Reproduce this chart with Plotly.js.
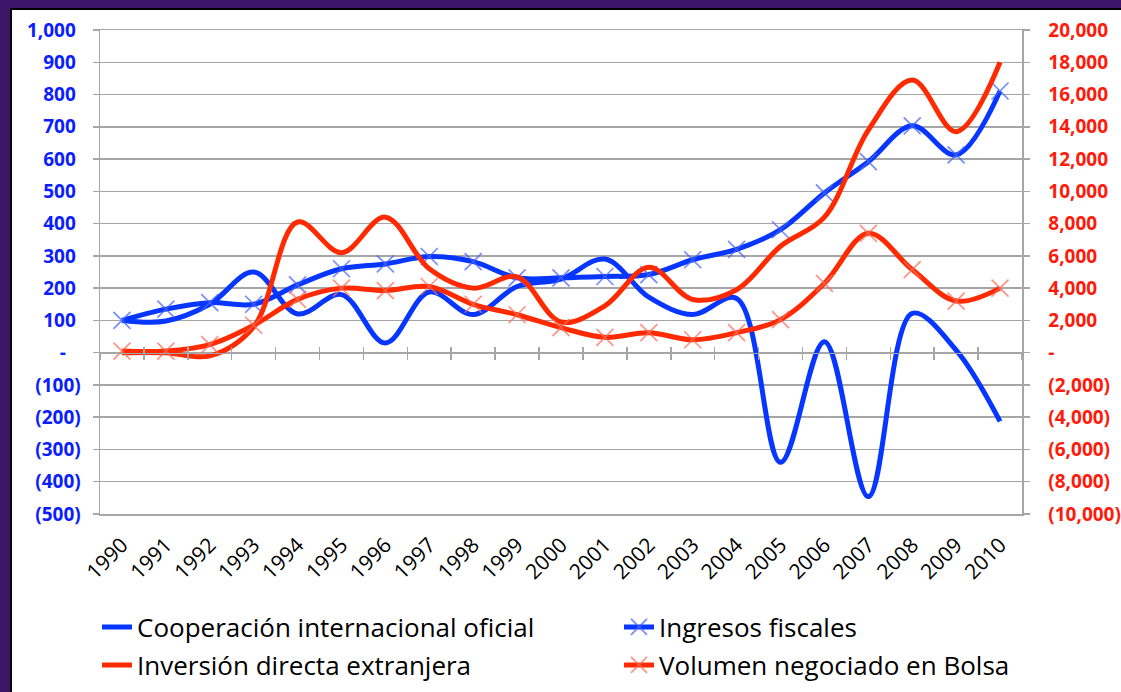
<!DOCTYPE html>
<html>
<head>
<meta charset="utf-8">
<script src="https://cdn.plot.ly/plotly-3.0.1.min.js"></script>
<style>
  html, body { margin: 0; padding: 0; background: #3c1569; }
  #chart { width: 1121px; height: 692px; }
</style>
</head>
<body>
<div id="chart"></div>
<script>
// years on the category axis
const years = [1990, 1991, 1992, 1993, 1994, 1995, 1996, 1997, 1998, 1999, 2000,
               2001, 2002, 2003, 2004, 2005, 2006, 2007, 2008, 2009, 2010];

// left axis (blue)
const cooperacion = [100, 98, 150, 250, 120, 180, 30, 188, 118, 205, 228,
                     290, 172, 118, 168, -340, 34, -446, 122, 8, -213];
const ingresos = [100, 135, 155, 150, 210, 260, 275, 298, 282, 232, 232,
                  236, 242, 288, 320, 381, 495, 592, 703, 613, 811];

// right axis (red)
const inversion = [0, 0, -200, 1600, 8100, 6200, 8400, 5200, 4000, 4700, 1900,
                   2900, 5300, 3300, 3900, 6600, 8400, 13800, 16900, 13700, 18000];
const volumen = [100, 100, 500, 1700, 3300, 4000, 3850, 4100, 3000, 2350, 1550,
                 950, 1240, 800, 1240, 2050, 4300, 7400, 5150, 3200, 4000];

const leftTicks = [-500, -400, -300, -200, -100, 0, 100, 200, 300, 400, 500, 600, 700, 800, 900, 1000];
const rightTicks = leftTicks.map(v => v * 20);

// accounting style labels like excel: (100), -, 1,000
function acct(v, pad) {
    if (v === 0) return '-' + '\u00a0\u00a0\u00a0';
    const s = Math.abs(v).toLocaleString('en-US');
    return v < 0 ? '(' + s + ')' : s + (pad ? '\u00a0' : '');
}

const BLUE = '#0636ff';
const RED = '#ff2a00';
const GRID = '#a6a6a6';

// figure geometry (px)
const W = 1121, H = 692;
const M = {l: 100, r: 99, t: 30, b: 178, autoexpand: false};
const pw = W - M.l - M.r, ph = H - M.t - M.b;
const px2x = p => (p - M.l) / pw;
const px2y = p => (H - M.b - p) / ph;

const traces = [
    {
        x: years, y: cooperacion, name: 'Cooperación internacional oficial',
        type: 'scatter', mode: 'lines', yaxis: 'y',
        line: {color: BLUE, width: 5, shape: 'spline', smoothing: 1},
        legend: 'legend'
    },
    {
        x: years, y: ingresos, name: 'Ingresos fiscales',
        type: 'scatter', mode: 'lines+markers', yaxis: 'y',
        line: {color: BLUE, width: 5, shape: 'spline', smoothing: 1},
        marker: {symbol: 'x-thin-open', size: 17, color: 'rgba(70,100,255,0.75)',
                 line: {width: 1.7, color: 'rgba(70,100,255,0.75)'}},
        legend: 'legend2'
    },
    {
        x: years, y: inversion, name: 'Inversión directa extranjera',
        type: 'scatter', mode: 'lines', yaxis: 'y2',
        line: {color: RED, width: 5, shape: 'spline', smoothing: 1},
        legend: 'legend3'
    },
    {
        x: years, y: volumen, name: 'Volumen negociado en Bolsa',
        type: 'scatter', mode: 'lines+markers', yaxis: 'y2',
        line: {color: RED, width: 5, shape: 'spline', smoothing: 1},
        marker: {symbol: 'x-thin-open', size: 17, color: 'rgba(255,110,90,0.75)',
                 line: {width: 1.7, color: 'rgba(255,110,90,0.75)'}},
        legend: 'legend4'
    },
    // helpers so the cross ticks on the zero line get drawn
    {x: years, y: years.map(() => null), xaxis: 'x2', yaxis: 'y', showlegend: false, hoverinfo: 'skip'},
    {x: years, y: years.map(() => null), xaxis: 'x3', yaxis: 'y', showlegend: false, hoverinfo: 'skip'}
];

const xr = [years[0] - 0.5, years[years.length - 1] + 0.5];
const bounds = years.map(y => y - 0.5).concat([years[years.length - 1] + 0.5]);
const zeroPos = (0 - leftTicks[0]) / (leftTicks[leftTicks.length - 1] - leftTicks[0]);

const legendFont = {family: 'Open Sans, sans-serif', size: 26, color: '#000'};
function legendAt(px, py) {
    return {
        x: px2x(px), y: px2y(py), xanchor: 'left', yanchor: 'middle',
        bgcolor: 'rgba(0,0,0,0)', font: legendFont, itemwidth: 30
    };
}

const layout = {
    width: W, height: H,
    margin: M,
    paper_bgcolor: '#3c1569',
    plot_bgcolor: '#ffffff',
    font: {family: 'Open Sans, sans-serif'},
    xaxis: {
        range: xr, tickvals: years, ticktext: years.map(String),
        tickangle: -45, ticks: '', ticklabelstandoff: 9,
        tickfont: {family: 'Open Sans, sans-serif', size: 21, color: '#000'},
        showgrid: false, zeroline: false,
        showline: true, mirror: true, linecolor: GRID, linewidth: 1.5
    },
    xaxis2: {
        overlaying: 'x', anchor: 'free', position: zeroPos, matches: 'x',
        tickvals: bounds, showticklabels: false, ticks: 'outside', ticklen: 6,
        tickcolor: GRID, tickwidth: 1.5, showline: true, linecolor: GRID, linewidth: 1.5,
        showgrid: false, zeroline: false
    },
    xaxis3: {
        overlaying: 'x', anchor: 'free', position: zeroPos, matches: 'x',
        tickvals: bounds, showticklabels: false, ticks: 'inside', ticklen: 6,
        tickcolor: GRID, tickwidth: 1.5, showline: false,
        showgrid: false, zeroline: false
    },
    yaxis: {
        range: [leftTicks[0], leftTicks[leftTicks.length - 1]],
        tickvals: leftTicks, ticktext: leftTicks.map(v => acct(v, true)),
        tickfont: {family: 'Open Sans, sans-serif', size: 19, color: '#0a1eff', weight: 'bold'},
        ticks: 'outside', ticklen: 6, tickcolor: GRID, tickwidth: 1.5,
        ticklabelstandoff: 8,
        showline: true, linecolor: GRID, linewidth: 1.5,
        gridcolor: GRID, gridwidth: 1.5, zeroline: false
    },
    yaxis2: {
        overlaying: 'y', side: 'right',
        range: [rightTicks[0], rightTicks[rightTicks.length - 1]],
        tickvals: rightTicks, ticktext: rightTicks.map(v => acct(v, false)),
        tickfont: {family: 'Open Sans, sans-serif', size: 19, color: '#ff1a0a', weight: 'bold'},
        ticks: 'outside', ticklen: 6, tickcolor: GRID, tickwidth: 1.5,
        ticklabelstandoff: 15,
        showline: true, linecolor: GRID, linewidth: 1.5,
        showgrid: false, zeroline: false
    },
    legend: legendAt(97, 627),
    legend2: legendAt(619, 627),
    legend3: legendAt(97, 665),
    legend4: legendAt(619, 665),
    shapes: [
        // white chart panel with black frame over the purple background
        {type: 'rect', xref: 'paper', yref: 'paper', layer: 'below',
         x0: px2x(11), x1: px2x(W + 10), y0: px2y(H + 10), y1: px2y(9),
         fillcolor: '#ffffff', line: {color: '#000000', width: 2}}
    ],
    showlegend: true
};

Plotly.newPlot('chart', traces, layout, {displayModeBar: false, staticPlot: true});
</script>
</body>
</html>
